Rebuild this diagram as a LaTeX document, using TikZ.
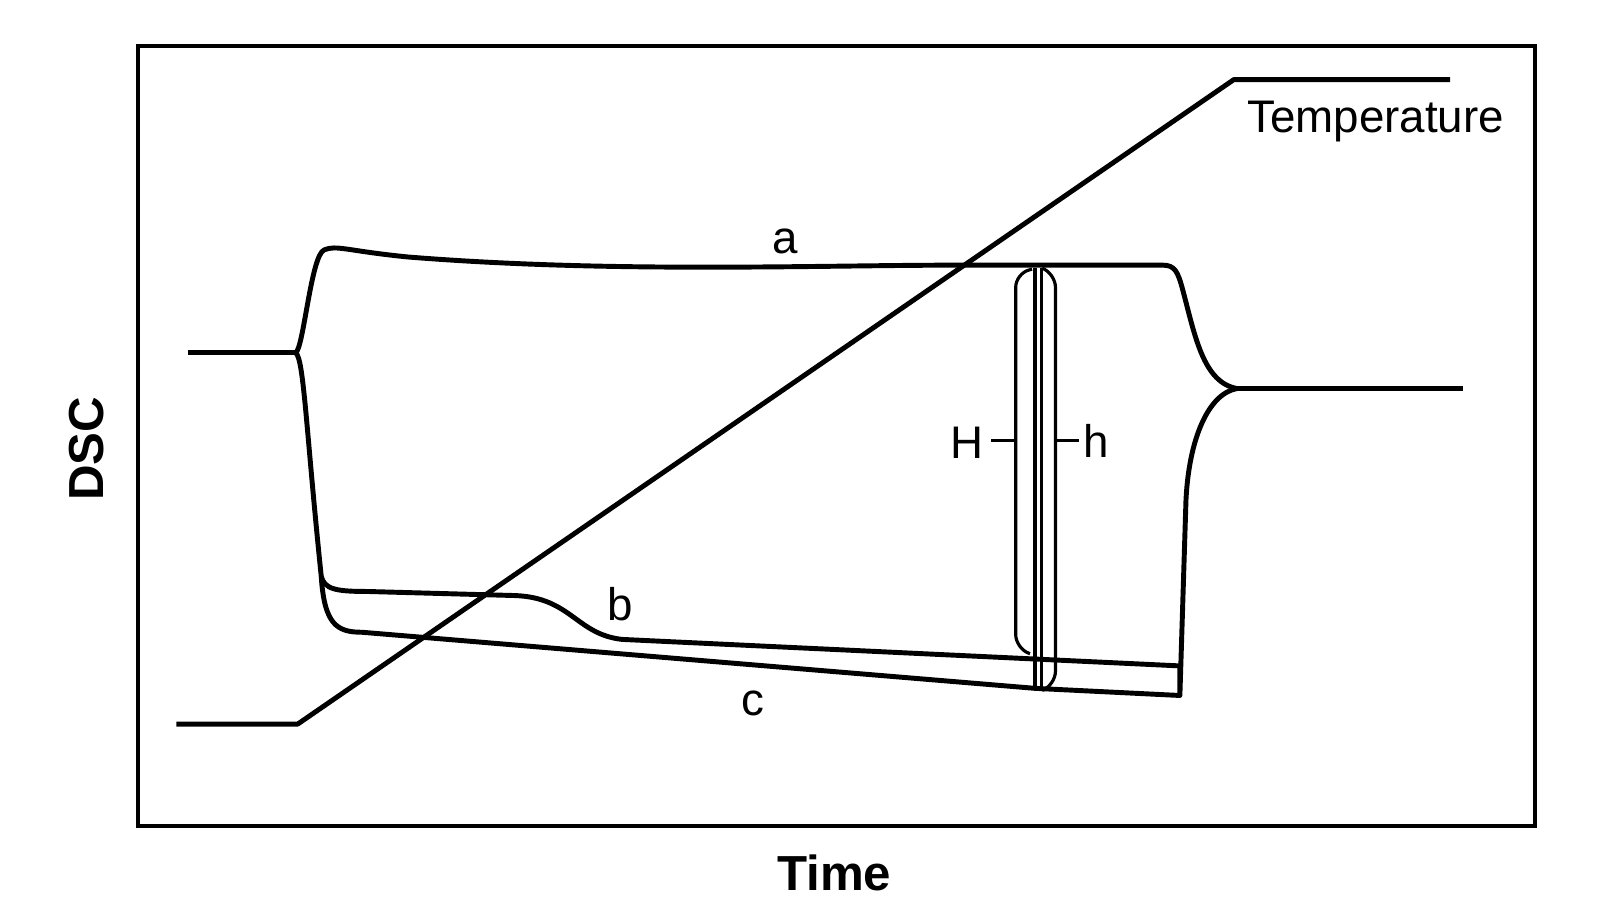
\documentclass[tikz,border=0pt]{standalone}
\usepackage{fontspec}
\setmainfont{Liberation Sans}
\begin{document}
\begin{tikzpicture}[x=0.0102cm,y=-0.0102cm,
		trace/.style={line width=1.4pt,line join=round},
		thin trace/.style={line width=0.9pt},
		lbl/.style={font=\fontsize{13}{15}\selectfont},
		axis lbl/.style={font=\fontsize{14}{17}\selectfont\bfseries}
		]
		\useasboundingbox (0,0) rectangle (1569,884);
		% frame
		\draw[line width=1.2pt] (135,45) rectangle (1505,810);
		\node[axis lbl] (time) at (818,856) {Time};
		\node[axis lbl, rotate=90] (dsc) at (85,440) {DSC};
		% temperature programme
		\draw[trace] (173,710) -- (292,710) -- (1210,78) -- (1422,78);
		\node[lbl] (temp) at (1349,119) {Temperature};
		% baselines
		\coordinate (cl) at (290,346);
		\coordinate (cr) at (1213,381);
		\draw[trace] (184,346) -- (cl);
		\draw[trace] (cr) -- (1435,381);
		% curve a
		\draw[trace] (cl) .. controls (298,340) and (305,250) .. (318,245)
			.. controls (330,240) and (340,246) .. (400,252)
			.. controls (600,268) and (800,260) .. (940,260)
			-- (1140,260) .. controls (1152,260) and (1155,266) .. (1160,285)
			.. controls (1172,330) and (1180,375) .. (cr);
		% curve b
		\draw[trace] (cl) .. controls (298,352) and (300,420) .. (315,565)
			.. controls (318,578) and (330,580) .. (360,580)
			-- (505,584) .. controls (560,586) and (565,622) .. (610,627)
			-- (1157,653);
		% curve c
		\draw[trace] (315,565) .. controls (318,612) and (330,620) .. (355,620)
			-- (1015,675) -- (1157,682);
		% right side
		\draw[trace] (cr) .. controls (1185,386) and (1166,430) .. (1163,490)
			-- (1157,682) -- (1157,653);
		% H and h
		\draw[thin trace] (1015,263) -- (1015,677);
		\draw[thin trace] (1021,263) -- (1021,677);
		\draw[thin trace, rounded corners=4pt] (1012,264) -- (996,268) -- (996,636) -- (1010,641);
		\draw[thin trace, rounded corners=4pt] (1022,263) -- (1035,268) -- (1035,672) -- (1022,677);
		\draw[thin trace] (996,432) -- (972,432);
		\draw[thin trace] (1035,432) -- (1058,432);
		\node[lbl] (H) at (948,434) {H};
		\node[lbl] (h) at (1075,432) {h};
		% curve labels
		\node[lbl] (a) at (770,237) {a};
		\node[lbl] (b) at (608,592) {b};
		\node[lbl] (c) at (738,690) {c};
	\end{tikzpicture}
\end{document}
